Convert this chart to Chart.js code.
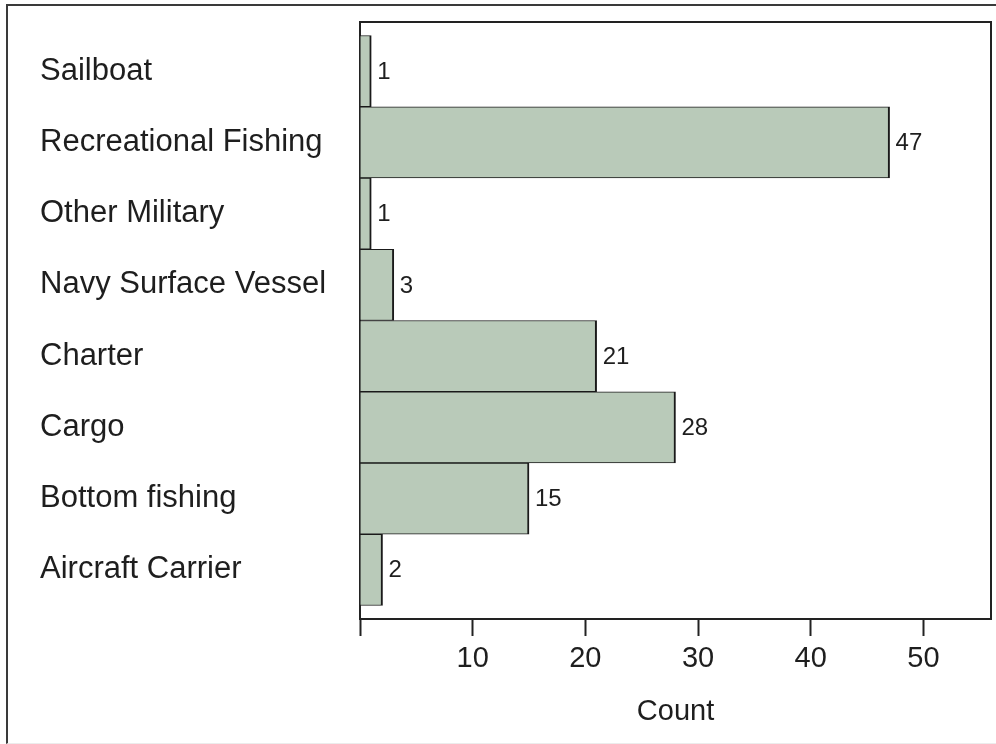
<!DOCTYPE html>
<html lang="en">
<head>
    <meta charset="UTF-8">
    <title>index</title>
    <script src="https://cdn.jsdelivr.net/npm/chart.js@4/dist/chart.umd.min.js"></script>
    <style>
        body {
            margin: 0;
            background: #ffffff;
        }

        .frame {
            position: absolute;
            left: 6px;
            top: 4px;
            width: 1000px;
            height: 740px;
            box-sizing: border-box;
            border-left: 2px solid #3a3a3a;
            border-top: 2px solid #3a3a3a;
            border-bottom: 1px solid #ececec;
        }

        .chart-container {
            position: absolute;
            left: 0;
            top: 0;
            width: 996px;
            height: 744px;
        }
    </style>
</head>
<body>

<div class="frame"></div>
<div class="chart-container">
    <canvas id="canvas" width="996" height="744"></canvas>
</div>

<script>
    var categories = ["Sailboat", "Recreational Fishing", "Other Military", "Navy Surface Vessel",
        "Charter", "Cargo", "Bottom fishing", "Aircraft Carrier"];
    var counts = [1, 47, 1, 3, 21, 28, 15, 2];
    var xTicks = [0, 10, 20, 30, 40, 50];

    var ink = '#1e1e1e';
    var fontFamily = '"Liberation Sans", Arial, sans-serif';

    // bar positions come from the index on a linear y axis, so the rows can be padded like the original
    var points = counts.map(function (c, i) {
        return {x: c, y: i};
    });

    var valueLabels = {
        id: 'valueLabels',
        afterDatasetsDraw: function (chart) {
            var ctx = chart.ctx;
            var meta = chart.getDatasetMeta(0);
            ctx.save();
            ctx.font = '24px ' + fontFamily;
            ctx.fillStyle = ink;
            ctx.textAlign = 'left';
            ctx.textBaseline = 'middle';
            meta.data.forEach(function (bar, i) {
                ctx.fillText(String(counts[i]), bar.x + 6, bar.y + 1);
            });
            ctx.restore();
        }
    };

    var plotBox = {
        id: 'plotBox',
        afterDraw: function (chart) {
            var a = chart.chartArea;
            var ctx = chart.ctx;
            ctx.save();
            ctx.strokeStyle = '#222222';
            ctx.lineWidth = 2;
            ctx.beginPath();
            ctx.moveTo(a.left, a.top);
            ctx.lineTo(a.right, a.top);
            ctx.lineTo(a.right, a.bottom);
            ctx.stroke();
            ctx.restore();
        }
    };

    window.onload = function () {
        var ctx = document.getElementById('canvas').getContext('2d');
        new Chart(ctx, {
            type: 'bar',
            data: {
                datasets: [{
                    label: 'Count',
                    data: points,
                    backgroundColor: '#b9cab9',
                    borderColor: '#1a1a1a',
                    borderWidth: {top: 1, bottom: 1, left: 0, right: 2},
                    borderSkipped: false,
                    barPercentage: 1,
                    categoryPercentage: 1
                }]
            },
            options: {
                indexAxis: 'y',
                responsive: false,
                animation: false,
                layout: {
                    padding: {left: 40, top: 22, right: 5, bottom: 0}
                },
                plugins: {
                    legend: {display: false},
                    tooltip: {enabled: false}
                },
                scales: {
                    x: {
                        type: 'linear',
                        position: 'bottom',
                        min: 0,
                        max: 56,
                        afterBuildTicks: function (scale) {
                            scale.ticks = xTicks.map(function (v) {
                                return {value: v};
                            });
                        },
                        afterFit: function (scale) {
                            scale.height = 125;
                        },
                        ticks: {
                            color: ink,
                            padding: 6,
                            font: {family: fontFamily, size: 29},
                            callback: function (v) {
                                return v === 0 ? '' : String(v);
                            }
                        },
                        grid: {
                            drawOnChartArea: false,
                            drawTicks: true,
                            tickLength: 17,
                            tickWidth: 2,
                            color: '#222222'
                        },
                        border: {display: true, color: '#222222', width: 2},
                        title: {
                            display: true,
                            text: 'Count',
                            color: ink,
                            font: {family: fontFamily, size: 29},
                            padding: {top: 4, bottom: 15}
                        }
                    },
                    y: {
                        type: 'linear',
                        reverse: true,
                        offset: false,
                        min: -0.69,
                        max: 7.69,
                        afterBuildTicks: function (scale) {
                            scale.ticks = categories.map(function (c, i) {
                                return {value: i};
                            });
                        },
                        afterFit: function (scale) {
                            scale.width = 320;
                        },
                        ticks: {
                            color: ink,
                            crossAlign: 'far',
                            font: {family: fontFamily, size: 31},
                            callback: function (v) {
                                return categories[v];
                            }
                        },
                        grid: {
                            offset: false,
                            drawOnChartArea: false,
                            drawTicks: false
                        },
                        border: {display: true, color: '#222222', width: 2}
                    }
                }
            },
            plugins: [valueLabels, plotBox]
        });
    };
</script>
</body>
</html>
